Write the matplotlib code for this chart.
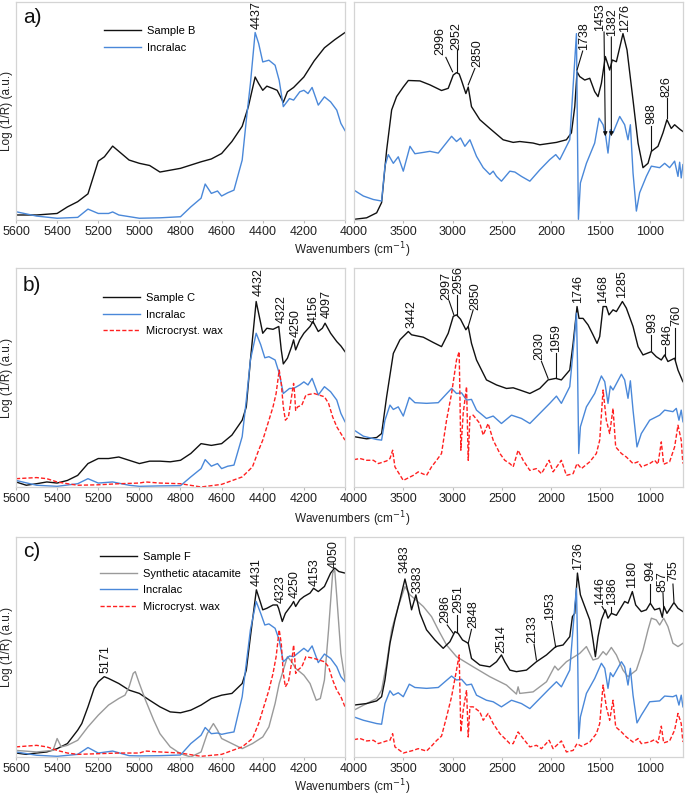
import matplotlib
matplotlib.use("Agg")
import matplotlib.pyplot as plt

plt.rcParams["font.family"] = ["Liberation Sans", "DejaVu Sans"]

# ---------------- NIR (left panels) ----------------
a_nir_wn_sample = [5600, 5500, 5400, 5350, 5300, 5250, 5220, 5200, 5170, 5130, 5050, 5000, 4950, 4900, 4800,
                   4700, 4650, 4600, 4550, 4500, 4470, 4437, 4420, 4400, 4380, 4350, 4330, 4300, 4280, 4250,
                   4200, 4150, 4100, 4050, 4000]
a_nir_sample = [2.3, 2.3, 3, 6, 8.4, 12, 21, 27, 29, 33.9, 27.5, 26, 25, 22, 23.7,
                26.7, 28, 30.5, 36, 43, 52, 65.6, 62.6, 59.5, 61.4, 60.3, 59.5, 54, 58.8, 60.8,
                65.6, 73, 79, 82.7, 86]
a_nir_wn_incralac = [5600, 5500, 5400, 5300, 5250, 5200, 5150, 5130, 5100, 5000, 4900, 4800, 4750, 4700, 4680,
                     4650, 4620, 4600, 4570, 4540, 4500, 4480, 4460, 4437, 4420, 4400, 4370, 4340, 4320, 4300,
                     4270, 4250, 4220, 4200, 4180, 4160, 4130, 4100, 4070, 4040, 4020, 4000]
a_nir_incralac = [3.8, 1.8, 0.8, 1.2, 5, 3, 3, 3.7, 2.3, 0.8, 1, 1.5, 6, 10, 16.5,
                  12.2, 13.3, 11, 12.5, 13.7, 27.5, 45.8, 62.6, 86, 81, 72.5, 73.3, 71, 64, 52,
                  55.7, 55, 58.8, 59.5, 58, 60.8, 52.7, 56.5, 54.2, 50.4, 44.3, 41]

b_nir_wn_sample = [5600, 5550, 5500, 5450, 5400, 5350, 5300, 5250, 5200, 5150, 5100, 5050, 5000, 4950, 4900,
                   4850, 4800, 4750, 4700, 4650, 4600, 4550, 4500, 4480, 4460, 4432, 4410, 4400, 4380, 4350,
                   4322, 4310, 4300, 4280, 4260, 4250, 4240, 4220, 4200, 4170, 4156, 4130, 4110, 4097, 4070,
                   4040, 4020, 4000]
b_nir_sample = [2.3, 0.8, 1.5, 2.3, 1.8, 3, 5.3, 10.7, 13, 13, 13.7, 12.2, 10.7, 11.8, 11.8,
                11.5, 12.2, 15.3, 19.8, 19, 19.8, 23.7, 30.5, 36.6, 58, 84.7, 74.8, 70.2, 72.5, 72,
                73.3, 62.6, 56.2, 58.8, 64, 67.2, 62.6, 67.2, 70.2, 73.3, 75.6, 71, 72.5, 74.8, 70.2,
                66.4, 64.4, 61.8]
nir_wn_incralac = [5600, 5500, 5400, 5300, 5250, 5200, 5130, 5050, 5000, 4900, 4800, 4750, 4700, 4680, 4650,
                   4620, 4600, 4570, 4540, 4500, 4480, 4460, 4432, 4410, 4390, 4370, 4340, 4320, 4300, 4270,
                   4250, 4220, 4200, 4180, 4160, 4130, 4100, 4070, 4040, 4020, 4000]
b_nir_incralac = [3, 0.8, 0.3, 1.5, 3.8, 1.8, 2.3, 0.8, 0.3, 0.5, 0.6, 4.6, 8.4, 12.5, 9.5,
                  10.7, 8.4, 9.5, 10, 23, 39.7, 58, 70.2, 65, 59, 59.5, 58, 52, 42.7, 45,
                  45, 46.6, 48, 46.6, 49.6, 42, 45.8, 43.5, 39.7, 33.6, 29.8]
c_nir_incralac = [2.3, 0.8, 0.3, 1.2, 4.3, 1.8, 2.7, 0.6, 0.5, 0.6, 0.9, 6.1, 9.9, 13.4, 10.6,
                  10.9, 10.3, 10.9, 11.4, 27.4, 42.6, 57.8, 70.7, 65.3, 60, 60.5, 58.5, 53.2, 43.3, 45.9,
                  45.6, 47.9, 49.4, 47.9, 50.5, 42.9, 46.8, 44.8, 41, 36.5, 34.2]
nir_wn_wax = [5600, 5500, 5450, 5400, 5350, 5300, 5200, 5100, 5000, 4970, 4900, 4800, 4700, 4600, 4500,
              4450, 4420, 4400, 4370, 4350, 4335, 4320, 4310, 4300, 4290, 4275, 4260, 4250, 4245, 4240,
              4230, 4210, 4190, 4150, 4100, 4080, 4060, 4040, 4020, 4000]
b_nir_wax = [3.8, 4.3, 3.8, 2.3, 1.5, 0.8, 1, 1.5, 1.8, 2.3, 1.8, 1.5, 0, 1.2, 4.6,
             9.2, 16.8, 21.4, 30.5, 36.6, 42.7, 53.4, 47.3, 36.6, 30.5, 32, 41.2, 47.3, 42.7, 35,
             36.6, 37.4, 42, 42.7, 41.2, 38.2, 32, 27.5, 24.4, 21.4]
c_nir_wax = [4.6, 5.3, 4.6, 3, 1.8, 1.2, 1.5, 1.8, 1.8, 2.7, 2.3, 1.8, 0.3, 1.2, 4.6,
             8.4, 15.2, 21.3, 30.4, 38, 45.6, 57.8, 51.7, 38, 31.9, 34.2, 42.6, 50.9, 45.6, 38,
             39.5, 41, 45.6, 44.8, 43.3, 41, 35, 30.4, 27.4, 22.8]
c_nir_wn_sample = [5600, 5550, 5500, 5450, 5400, 5350, 5300, 5280, 5250, 5220, 5200, 5171, 5150, 5100, 5050,
                   5000, 4950, 4900, 4850, 4800, 4750, 4700, 4650, 4600, 4550, 4500, 4480, 4460, 4431, 4410,
                   4400, 4380, 4350, 4330, 4323, 4305, 4290, 4260, 4250, 4240, 4220, 4200, 4170, 4153, 4130,
                   4100, 4070, 4050, 4030, 4000]
c_nir_sample = [1.8, 1.2, 1.8, 2.3, 3.8, 6.1, 12.2, 15.2, 22.8, 31.2, 34.2, 36.5, 35.7, 33.4, 30.4,
                28.9, 25.8, 22.8, 20.5, 20.1, 21.3, 23.6, 26.6, 28.1, 28.9, 33.4, 39.5, 54.7, 76, 69.9,
                66.9, 67.6, 69.1, 69.1, 67.6, 61.6, 65.3, 69.1, 70.7, 68.4, 71.4, 72.9, 74.5, 76.7, 75.2,
                77.5, 83.6, 85.9, 84.3, 83.6]
c_nir_wn_atacamite = [5600, 5500, 5420, 5400, 5380, 5350, 5300, 5250, 5200, 5150, 5100, 5070, 5050, 5030, 5020,
                      5000, 4970, 4930, 4900, 4850, 4800, 4750, 4700, 4670, 4640, 4620, 4600, 4550, 4500, 4450,
                      4400, 4370, 4340, 4320, 4300, 4280, 4260, 4240, 4200, 4170, 4140, 4120, 4100, 4080, 4060,
                      4050, 4040, 4020, 4000]
c_nir_atacamite = [3, 2.3, 3, 8.4, 4.6, 5.3, 7.6, 13.7, 19, 23.6, 26.6, 28.1, 31.9, 38, 38.8,
                   33.4, 25.8, 16.7, 10.6, 4.6, 1.5, 0, 2.3, 10.6, 15.2, 12.2, 8.4, 6.1, 3.8, 6.1,
                   9.1, 13.7, 24.3, 33.4, 39.5, 45.6, 43.3, 40.3, 37.2, 33.4, 25.8, 26.6, 35, 57.8, 83.6,
                   85.1, 72.9, 47.1, 35]

# ---------------- MIR (right panels) ----------------
a_mir_wn_sample = [4000, 3872, 3770, 3720, 3669, 3618, 3568, 3500, 3449, 3331, 3230, 3112, 3044, 2993, 2960,
                   2933, 2909, 2865, 2841, 2808, 2723, 2622, 2487, 2385, 2318, 2183, 2115, 1946, 1845, 1794,
                   1760, 1737, 1710, 1659, 1608, 1558, 1524, 1490, 1450, 1406, 1379, 1338, 1271, 1230, 1169,
                   1118, 1068, 1017, 983, 916, 865, 825, 781, 747, 696, 663]
a_mir_sample = [0.3, 1, 3.3, 8, 32, 50.5, 56.6, 61, 64, 63.8, 62, 59.4, 60.4, 66.5, 67.6,
                67, 64, 58, 61, 52, 46, 42, 36.8, 35.6, 36, 35.3, 34.5, 35.6, 36.8, 40,
                52, 68, 65.8, 64.2, 65, 58.9, 56.6, 62.7, 75, 68.8, 73.4, 72.6, 85.5, 78, 55,
                35.3, 24, 26, 31.5, 33.8, 40, 46, 42, 43.7, 41.7, 40.6]
a_mir_wn_incralac = [4000, 3905, 3804, 3720, 3686, 3652, 3601, 3551, 3500, 3432, 3382, 3297, 3230, 3145, 3010,
                     2960, 2919, 2875, 2824, 2757, 2689, 2622, 2588, 2554, 2504, 2419, 2368, 2301, 2216, 2115,
                     2014, 1953, 1912, 1811, 1760, 1743, 1733, 1723, 1703, 1642, 1558, 1514, 1473, 1446, 1423,
                     1399, 1372, 1304, 1254, 1220, 1196, 1169, 1135, 1102, 1034, 983, 899, 848, 798, 747,
                     713, 696, 680, 663]
a_mir_incralac = [13.7, 11, 9.4, 8.7, 24.7, 30, 26, 29, 22.4, 33.8, 30.4, 31, 31.5, 30.7, 38.4,
                  36, 37.6, 33.8, 36.8, 29.2, 24, 20.9, 22.4, 20, 17.8, 22.4, 22, 20, 17.8, 23,
                  27.7, 30, 27.7, 36.8, 73.4, 85.5, 40, 0.3, 17, 26, 35.3, 46.7, 43.7, 38.4, 30.7,
                  41.4, 40, 47.5, 43.7, 36.8, 43.7, 21.6, 4.1, 12.5, 20, 24.7, 24, 26, 24, 27,
                  20, 26.5, 19.3, 25.4]

b_mir_wn_sample = [4000, 3872, 3770, 3720, 3669, 3601, 3534, 3449, 3416, 3297, 3196, 3112, 3044, 2993, 2960,
                   2919, 2865, 2841, 2808, 2757, 2656, 2554, 2453, 2385, 2318, 2216, 2115, 2031, 1953, 1896,
                   1811, 1777, 1737, 1717, 1676, 1625, 1575, 1534, 1507, 1473, 1440, 1413, 1372, 1338, 1277,
                   1237, 1169, 1118, 1068, 983, 933, 882, 848, 815, 747, 713, 663]
b_mir_sample = [23, 22, 22.6, 24.4, 41.2, 61, 67.2, 71, 69.5, 68.4, 66, 64.1, 70.2, 77.9, 78.6,
                76.6, 71.8, 73.3, 65.6, 58, 48.9, 46.6, 45, 45.3, 44.3, 42.7, 45, 48.9, 49.6, 48.9,
                53.4, 65.6, 82.4, 77, 77, 74, 69.5, 65.6, 68.7, 82.4, 82.4, 78.6, 80.9, 80.1, 84.7,
                81.7, 73.3, 64.1, 60.3, 61.8, 59.5, 58, 60.3, 57.3, 58.8, 53.4, 48.1]
mir_wn_incralac = [4000, 3905, 3770, 3720, 3686, 3635, 3601, 3551, 3500, 3439, 3382, 3264, 3145, 3010, 2960,
                   2909, 2858, 2808, 2757, 2656, 2588, 2504, 2402, 2301, 2216, 2014, 1946, 1896, 1811, 1760,
                   1743, 1733, 1720, 1703, 1642, 1558, 1490, 1456, 1423, 1399, 1372, 1287, 1254, 1220, 1196,
                   1169, 1129, 1085, 1000, 899, 848, 764, 730, 703, 680, 663]
b_mir_incralac = [26, 23.2, 21.7, 21.4, 30.5, 37.4, 35.4, 36.6, 32.4, 40.9, 38.5, 38.2, 38.5, 45, 42.7,
                  43, 39.7, 40, 35.1, 31.3, 32.4, 29, 32.8, 31.3, 29, 38.2, 41.5, 38.2, 45.8, 70.2,
                  79.4, 58, 15.3, 27.5, 36.6, 42.7, 50.7, 48.1, 38.2, 46.1, 44.3, 51.5, 48.9, 40.5, 48.5,
                  35.1, 18.3, 24.4, 30.5, 32.8, 35.1, 34.4, 35.9, 30.5, 35.1, 29.8]
c_mir_incralac = [18.2, 16.7, 15.2, 14.9, 24.3, 30.1, 28.1, 29.2, 27.4, 33.1, 31.6, 31.2, 31.6, 36.8, 35,
                  35.3, 32.7, 33.1, 28.1, 25.8, 25.1, 22.8, 25.8, 24.3, 22, 31.2, 34.2, 31.9, 39.5, 68.4,
                  76.7, 54.7, 8.4, 18.2, 28.9, 35.7, 42.6, 40.3, 31.2, 38.3, 36.5, 43.3, 41, 32.7, 40.3,
                  28.1, 15.5, 19, 25.1, 25.5, 27.7, 27.4, 28.1, 23.6, 28.1, 22.8]
mir_wn_wax = [4000, 3939, 3872, 3804, 3753, 3669, 3635, 3608, 3585, 3500, 3399, 3348, 3264, 3213, 3162,
              3112, 3061, 3010, 2960, 2933, 2916, 2892, 2858, 2841, 2824, 2791, 2723, 2689, 2639, 2588,
              2520, 2470, 2419, 2385, 2335, 2284, 2216, 2149, 2098, 2020, 1980, 1896, 1845, 1777, 1737,
              1693, 1608, 1541, 1507, 1473, 1440, 1406, 1372, 1345, 1287, 1237, 1169, 1118, 1085, 1000,
              950, 916, 882, 858, 798, 747, 713, 680, 663]
b_mir_wax = [12.5, 13, 12.2, 12.2, 10.7, 11.9, 13, 16.8, 9.2, 3, 5.3, 6.9, 5.3, 9.2, 12.2,
             15.3, 30.5, 42.7, 58, 61.8, 16.8, 33.6, 45.8, 12.2, 32.1, 32.8, 29, 23.7, 29, 21.4,
             15.3, 12.2, 10.7, 9.2, 16.8, 12.2, 7.6, 8.4, 6.1, 12.2, 6.9, 12.2, 5.3, 6.1, 10.7,
             8.4, 11.5, 15.3, 21.4, 44.3, 30.5, 24.4, 35.9, 18.3, 15.3, 13.7, 10.7, 11.5, 9.2, 10.7,
             12.2, 10.4, 20.6, 10.4, 11.5, 18.3, 28.2, 21.4, 10.7]
c_mir_wax = [7.9, 8.4, 7.3, 7.6, 6.1, 7.3, 7.6, 10.6, 4.6, 1.8, 3, 3.8, 2.7, 5, 7.5,
             9.5, 18.2, 27.4, 39.5, 46.4, 11.4, 21.3, 30.4, 9.1, 22.8, 22.8, 20.5, 16.7, 19.8, 15.2,
             10.6, 8.4, 6.1, 6.1, 11.4, 8.4, 4.6, 5.3, 3.8, 7.6, 3.8, 7.3, 2.3, 3, 6.1,
             4.9, 6.8, 10.6, 15.2, 32.7, 22.8, 16.7, 25.8, 13.7, 11.4, 9.1, 6.8, 8.4, 6.1, 6.8,
             7.9, 6.4, 14, 6.4, 7.3, 12.2, 19.8, 15.2, 6.8]
c_mir_wn_sample = [4000, 3872, 3770, 3720, 3686, 3635, 3585, 3534, 3483, 3449, 3416, 3372, 3331, 3264, 3179,
                   3095, 3027, 2976, 2943, 2899, 2841, 2808, 2723, 2622, 2554, 2504, 2470, 2419, 2352, 2250,
                   2149, 2047, 1953, 1879, 1811, 1784, 1760, 1733, 1703, 1659, 1608, 1575, 1551, 1524, 1490,
                   1450, 1423, 1389, 1338, 1254, 1220, 1176, 1142, 1085, 1034, 994, 950, 899, 872, 855,
                   825, 754, 713, 663]
c_mir_sample = [23.6, 24.3, 25.5, 27.4, 35, 51.7, 62.3, 71.4, 80.9, 74.5, 66.9, 73.7, 65.3, 57.8, 53.2,
                49.4, 52.4, 57, 56.2, 53.2, 51.7, 44.8, 41.8, 41, 43.3, 46.4, 43.3, 39.5, 38.8, 39.5,
                43.3, 46.4, 50.2, 50.9, 54.7, 63.8, 65.3, 83.6, 73.7, 68.4, 62.3, 53.2, 45.6, 54.7, 62.3,
                66.9, 63.1, 65.3, 64.4, 70.7, 69.9, 75.2, 69.1, 66.1, 66.9, 69.9, 66.9, 67.6, 63.5, 68.4,
                65.3, 70.2, 67.6, 66.1]
c_mir_wn_atacamite = [4000, 3872, 3770, 3720, 3669, 3618, 3551, 3483, 3432, 3372, 3297, 3213, 3145, 3061, 2960,
                      2791, 2622, 2453, 2352, 2335, 2318, 2183, 2047, 1963, 1929, 1845, 1710, 1642, 1575, 1524,
                      1473, 1440, 1389, 1338, 1271, 1220, 1135, 1068, 1017, 983, 933, 899, 858, 815, 764,
                      713, 663]
c_mir_atacamite = [21.3, 24.3, 26.6, 30.4, 42.6, 57.8, 68.4, 77.5, 73.7, 71.4, 68.4, 63.8, 57.8, 50.9, 45.6,
                   41, 36.5, 32.7, 28.6, 31.9, 28.9, 29.6, 34.2, 41.3, 39.5, 43.3, 47.1, 50.2, 44.1, 44.8,
                   47.9, 46.4, 49.8, 46.4, 39.5, 36.5, 39.5, 48.6, 57.8, 63.1, 62.3, 60, 63.1, 59.3, 51.7,
                   50.2, 51.7]

# peak labels: (text, x, y of text base, leader line (x0, y0, x1, y1) or None, arrow)
a_nir_peaks = [("4437", 4430, 87.8, None, False)]
a_mir_peaks = [("2996", 3128, 75.6, (3068, 74.6, 3000, 68), False),
               ("2952", 2960, 78, (2960, 78, 2960, 68), False),
               ("2850", 2750, 70.3, (2774, 69.5, 2841, 62), False),
               ("1738", 1669, 78, (1680, 77.5, 1737, 68.8), False),
               ("1453", 1500, 86.8, (1463, 86.3, 1450, 38.4), True),
               ("1382", 1379, 84.3, (1389, 84, 1389, 38.4), True),
               ("1276", 1254, 86.3, None, False),
               ("988", 983, 44, (983, 43, 983, 31.5), False),
               ("826", 825, 56.6, (825, 55.9, 825, 46.7), False)]
b_nir_peaks = [("4432", 4421, 87, None, False), ("4322", 4310, 74.8, None, False),
               ("4250", 4242, 68.7, None, False), ("4156", 4153, 74.8, None, False),
               ("4097", 4088, 77, None, False)]
b_mir_peaks = [("3442", 3416, 72.5, None, False),
               ("2997", 3068, 85.5, (3035, 85, 2987, 78.6), False),
               ("2956", 2945, 88, (2960, 87.8, 2960, 78.6), False),
               ("2850", 2774, 80.9, (2791, 80.9, 2841, 73.3), False),
               ("2030", 2115, 58, (2098, 57.3, 2031, 49.6), False),
               ("1959", 1946, 61.8, (1953, 61, 1953, 50.4), False),
               ("1746", 1727, 84, None, False),
               ("1468", 1473, 84, None, False),
               ("1285", 1277, 86.3, None, False),
               ("993", 977, 70.2, (983, 69.5, 983, 62.6), False),
               ("846", 821, 64.9, (848, 64.1, 848, 60.3), False),
               ("760", 730, 73.3, (747, 72.5, 747, 58), False)]
c_nir_peaks = [("5171", 5167, 38, None, False), ("4431", 4429, 77.5, None, False),
               ("4323", 4315, 70.2, None, False), ("4250", 4247, 72.2, None, False),
               ("4153", 4145, 77.5, None, False), ("4050", 4056, 85.9, None, False)]
c_mir_peaks = [("3483", 3483, 83.6, None, False),
               ("3383", 3358, 74.5, None, False),
               ("2986", 3078, 60.8, (3054, 60, 2993, 56.2), False),
               ("2951", 2943, 65.3, (2950, 64.6, 2950, 57), False),
               ("2848", 2791, 58.8, (2808, 58, 2841, 51.7), False),
               ("2514", 2510, 47.1, None, False),
               ("2133", 2189, 51.7, (2173, 51.2, 2149, 44.1), False),
               ("1953", 2014, 62.3, (1997, 61.6, 1953, 49.8), False),
               ("1736", 1727, 85.1, None, False),
               ("1446", 1507, 69.1, (1483, 68.4, 1450, 66), False),
               ("1386", 1379, 69.1, (1389, 68.4, 1389, 65.5), False),
               ("1180", 1176, 76.7, None, False),
               ("994", 994, 79.8, (994, 78.6, 994, 69.9), False),
               ("857", 872, 75.2, (865, 74.5, 858, 66.9), False),
               ("755", 764, 79.8, (764, 78.6, 754, 70.7), False)]

nir_ticks = list(range(5600, 3999, -200))
nir_tick_labels = [str(t) if t != 4000 else "" for t in nir_ticks]
mir_ticks = [4000, 3500, 3000, 2500, 2000, 1500, 1000]

BLACK = "#111111"
GRAY = "#9a9a9a"
BLUE = "#4a88d9"
RED = "#ff2020"


def style_axis(ax, nir):
    if nir:
        ax.set_xlim(5600, 4000)
        ax.set_xticks(nir_ticks, labels=nir_tick_labels)
    else:
        ax.set_xlim(4000, 662)
        ax.set_xticks(mir_ticks)
    ax.set_ylim(0, 100)
    ax.set_yticks([])
    for sp in ax.spines.values():
        sp.set_color("#d4d4d4")
        sp.set_linewidth(0.9)
    ax.tick_params(axis="x", length=2.5, color="#bbbbbb", labelsize=9, labelcolor="#222222", pad=1.5)


def label_peaks(ax, peaks):
    for text, xt, yt, line, arrow in peaks:
        ax.text(xt, yt, text, rotation=90, ha="center", va="bottom", fontsize=9, color="#111111")
        if line is None:
            continue
        x0, y0, x1, y1 = line
        if arrow:
            ax.annotate("", xy=(x1, y1), xytext=(x0, y0),
                        arrowprops=dict(arrowstyle="-|>", color="#111111", lw=0.8,
                                        mutation_scale=6, shrinkA=0, shrinkB=0))
        else:
            ax.plot([x0, x1], [y0, y1], color="#111111", lw=0.8)


fig = plt.figure(figsize=(6.85, 7.96), dpi=100)
W, H = 685.0, 796.0
rows = [(2, 220), (268, 487), (537, 757)]
axes = []
for top, bottom in rows:
    left_ax = fig.add_axes([16 / W, (H - bottom) / H, 329 / W, (bottom - top) / H])
    right_ax = fig.add_axes([354 / W, (H - bottom) / H, 329 / W, (bottom - top) / H])
    axes.append((left_ax, right_ax))

lw = 1.0
# row a
ax, bx = axes[0]
ax.plot(a_nir_wn_sample, a_nir_sample, color=BLACK, lw=lw, label="Sample B")
ax.plot(a_nir_wn_incralac, a_nir_incralac, color=BLUE, lw=lw, label="Incralac")
bx.plot(a_mir_wn_sample, a_mir_sample, color=BLACK, lw=lw)
bx.plot(a_mir_wn_incralac, a_mir_incralac, color=BLUE, lw=lw)
label_peaks(ax, a_nir_peaks)
label_peaks(bx, a_mir_peaks)

# row b
ax, bx = axes[1]
ax.plot(b_nir_wn_sample, b_nir_sample, color=BLACK, lw=lw, label="Sample C")
ax.plot(nir_wn_incralac, b_nir_incralac, color=BLUE, lw=lw, label="Incralac")
ax.plot(nir_wn_wax, b_nir_wax, color=RED, lw=lw, ls=(0, (3, 1.5)), label="Microcryst. wax")
bx.plot(b_mir_wn_sample, b_mir_sample, color=BLACK, lw=lw)
bx.plot(mir_wn_incralac, b_mir_incralac, color=BLUE, lw=lw)
bx.plot(mir_wn_wax, b_mir_wax, color=RED, lw=lw, ls=(0, (3, 1.5)))
label_peaks(ax, b_nir_peaks)
label_peaks(bx, b_mir_peaks)

# row c
ax, bx = axes[2]
ax.plot(c_nir_wn_sample, c_nir_sample, color=BLACK, lw=lw, label="Sample F")
ax.plot(c_nir_wn_atacamite, c_nir_atacamite, color=GRAY, lw=lw, label="Synthetic atacamite")
ax.plot(nir_wn_incralac, c_nir_incralac, color=BLUE, lw=lw, label="Incralac")
ax.plot(nir_wn_wax, c_nir_wax, color=RED, lw=lw, ls=(0, (3, 1.5)), label="Microcryst. wax")
bx.plot(c_mir_wn_atacamite, c_mir_atacamite, color=GRAY, lw=lw)
bx.plot(c_mir_wn_sample, c_mir_sample, color=BLACK, lw=lw)
bx.plot(mir_wn_incralac, c_mir_incralac, color=BLUE, lw=lw)
bx.plot(mir_wn_wax, c_mir_wax, color=RED, lw=lw, ls=(0, (3, 1.5)))
label_peaks(ax, c_nir_peaks)
label_peaks(bx, c_mir_peaks)

legend_pos = [(0.267, 0.89), (0.264, 0.886), (0.255, 0.932)]
panel_y = [0.927, 0.922, 0.936]
for i, (ax, bx) in enumerate(axes):
    style_axis(ax, True)
    style_axis(bx, False)
    ax.legend(loc="upper left", bbox_to_anchor=legend_pos[i], frameon=False, fontsize=8,
              handlelength=3.3, handletextpad=0.6, labelspacing=0.6, borderpad=0, borderaxespad=0)
    ax.text(0.021, panel_y[i], "abc"[i] + ")", transform=ax.transAxes, ha="left", va="center",
            fontsize=15, color="#111111")

ylabel_y = [111, 378, 647]
xlabel_y = [250, 519, 787]
for i in range(3):
    fig.text(7 / W, 1 - ylabel_y[i] / H, "Log (1/R) (a.u.)", rotation=90, ha="center", va="center",
             fontsize=8.5, color="#222222")
    fig.text(352 / W, 1 - xlabel_y[i] / H, "Wavenumbers (cm$^{-1}$)", ha="center", va="center",
             fontsize=8.5, color="#222222")

fig.savefig("out.png", dpi=100)
